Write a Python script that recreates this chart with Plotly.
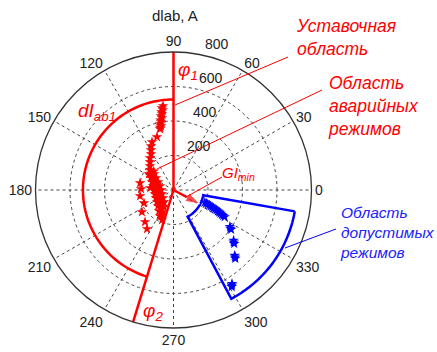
import numpy as np
import plotly.graph_objects as go

W, H = 437, 352

# ---- data (polar: r in A, theta in degrees) ----
red_r = [491, 468, 446, 423, 401, 378, 362, 322,
         305, 286, 266, 246, 230, 212, 195, 179,
         170, 146, 148, 123, 133, 101, 121, 82, 113, 72,
         110, 71, 112, 77, 118, 89, 129, 113, 148, 141, 170, 186,
         198, 188, 197, 223, 248, 273, 187,
         104, 90, 87, 91, 104, 127,
         480, 457, 435, 412, 390, 370, 158, 160, 140, 118, 96,
         135, 100, 98, 105, 160]
red_theta = [97.1, 97.5, 98.6, 99.1, 100.4, 101.1, 102.5, 107.3,
             114.1, 117.1, 119.4, 122.0, 126.3, 130.0, 134.4, 139.6,
             146.9, 140.6, 151.9, 145.6, 159.6, 152.7, 169.0, 163.5, 180.0, 180.0,
             192.2, 199.2, 204.6, 217.3, 216.0, 231.6, 225.9, 240.8, 235.4, 244.5, 242.6, 249.0,
             168.2, 178.2, 190.2, 214.9, 228.3, 235.8, 203.8,
             167.1, 180.0, 195.4, 210.7, 226.1, 235.2,
             98.0, 98.8, 99.6, 100.6, 101.5, 102.0, 136.5, 143.0, 149.0, 156.0, 172.0,
             175.0, 187.0, 202.0, 221.0, 246.0]

blue_r = [195, 205, 215, 225, 235, 245, 255, 265, 275, 285, 295, 305, 315, 325, 335,
          390, 398, 405, 455, 462, 470, 520, 528, 535, 640, 648, 655]
blue_theta = [-21.5, -22.0, -22.5, -23.0, -23.5, -24.0, -24.3, -24.7, -25.0, -25.5,
              -26.0, -26.5, -27.0, -27.3, -27.7, -33.0, -34.0, -34.5, -40.0, -41.0,
              -41.5, -47.0, -47.5, -48.0, -58.0, -58.5, -59.0]

angle_ticks = [0, 30, 60, 90, 120, 150, 180, 210, 240, 270, 300, 330]
radial_ticks = [200, 400, 600, 800]
r_max = 800
radial_label_angle = 80

# region geometry (data units)
phi1 = 90
phi2 = 253
dI_ab1 = 525
allowed_r = [175, 714]
allowed_theta = [-62, -10]
gl_min_r = 172
gl_min_theta = -28

RED = "#ff0000"
BLUE = "#0000ff"
TXT = "Liberation Sans, Arial"

# polar area in pixels
CX, CY, RAD = 173.5, 190.0, 138.0


def px(x):
    return x / W


def py(y):
    return 1 - y / H


fig = go.Figure()

# setpoint region boundary
fig.add_trace(go.Scatterpolar(r=[0, r_max], theta=[phi1, phi1], mode="lines",
                              line=dict(color=RED, width=2.5), hoverinfo="skip"))
fig.add_trace(go.Scatterpolar(r=[0, r_max], theta=[phi2, phi2], mode="lines",
                              line=dict(color=RED, width=2.5), hoverinfo="skip"))
arc_t = np.linspace(phi1, phi2, 80)
fig.add_trace(go.Scatterpolar(r=[dI_ab1] * len(arc_t), theta=arc_t, mode="lines",
                              line=dict(color=RED, width=2.5), hoverinfo="skip"))

# allowed region sector
t_out = np.linspace(allowed_theta[1], allowed_theta[0], 60)
t_in = t_out[::-1]
sec_t = list(t_out) + list(t_in) + [t_out[0]]
sec_r = [allowed_r[1]] * len(t_out) + [allowed_r[0]] * len(t_in) + [allowed_r[1]]
fig.add_trace(go.Scatterpolar(r=sec_r, theta=sec_t, mode="lines",
                              line=dict(color=BLUE, width=2.5), hoverinfo="skip"))

# data points
fig.add_trace(go.Scatterpolar(r=red_r, theta=red_theta, mode="markers",
                              marker=dict(symbol="star", size=8, color=RED)))
fig.add_trace(go.Scatterpolar(r=blue_r, theta=blue_theta, mode="markers",
                              marker=dict(symbol="star", size=8, color=BLUE)))

# GI_min arrow
fig.add_trace(go.Scatterpolar(r=[0, gl_min_r], theta=[gl_min_theta, gl_min_theta],
                              mode="lines+markers",
                              line=dict(color=RED, width=2.5),
                              marker=dict(symbol=["circle", "arrow"], size=[0, 15],
                                          color=RED, angleref="previous"),
                              hoverinfo="skip"))

tick_font = dict(family=TXT, size=14, color="#222")

fig.update_layout(
    width=W, height=H,
    margin=dict(l=0, r=0, t=0, b=0),
    paper_bgcolor="white",
    showlegend=False,
    polar=dict(
        domain=dict(x=[px(CX - RAD), px(CX + RAD)], y=[py(CY + RAD), py(CY - RAD)]),
        bgcolor="white",
        angularaxis=dict(rotation=0, direction="counterclockwise",
                         tickmode="array", tickvals=angle_ticks,
                         ticktext=[str(a) for a in angle_ticks],
                         showline=True, linecolor="#333", linewidth=1.3,
                         showgrid=True, gridcolor="#444", gridwidth=1, griddash="dot",
                         ticks="", tickfont=tick_font),
        radialaxis=dict(range=[0, r_max], tickmode="array", tickvals=radial_ticks,
                        angle=radial_label_angle, showline=False, ticks="",
                        showticklabels=False,
                        showgrid=True, gridcolor="#444", gridwidth=1, griddash="dot"),
    ),
)

ann = []
ann.append(dict(x=px(175), y=py(16), text="dlab, A", showarrow=False,
                xanchor="center", yanchor="middle",
                font=dict(family=TXT, size=15, color="#222")))

# radial tick labels (MATLAB style: beside the ring, at 80 degrees)
a = np.deg2rad(radial_label_angle)
for v in radial_ticks:
    rp = v / r_max * RAD
    ann.append(dict(x=px(CX + rp * np.cos(a) + 6), y=py(CY - rp * np.sin(a) - 10),
                    text=str(v), showarrow=False, xanchor="left", yanchor="middle",
                    font=tick_font))


def label(x, y, text, color, size=17):
    ann.append(dict(x=px(x), y=py(y), text=text, showarrow=False, xanchor="left",
                    yanchor="middle", align="left",
                    font=dict(family=TXT, size=size, color=color, style="italic")))


label(294, 37, "Уставочная<br>область", RED, 17.5)
label(326, 106, "Область<br>аварийных<br>режимов", RED, 17.5)
label(338, 232, "Область<br>допустимых<br>режимов", "#2020ff", 15.5)
label(176, 71, "φ<sub>1</sub>", RED, 19)
label(141, 312, "φ<sub>2</sub>", RED, 19)
label(76, 112, "dI<sub>ab1</sub>", RED, 19)
label(220, 173, "GI<sub>min</sub>", RED, 15)

fig.update_layout(annotations=ann)

shapes = []
for (x0, y0, x1, y1, c) in [(288, 57, 175, 105, RED), (322, 90, 157, 169, RED),
                            (222, 177, 186, 197, RED), (336, 229, 285, 248, BLUE)]:
    shapes.append(dict(type="line", xref="paper", yref="paper",
                       x0=px(x0), y0=py(y0), x1=px(x1), y1=py(y1),
                       line=dict(color=c, width=1)))
fig.update_layout(shapes=shapes)

fig.write_html("out.html",
               config={"displayModeBar": False},
               post_script="document.body.style.margin='0px';"
                           "document.body.style.overflow='hidden';")
